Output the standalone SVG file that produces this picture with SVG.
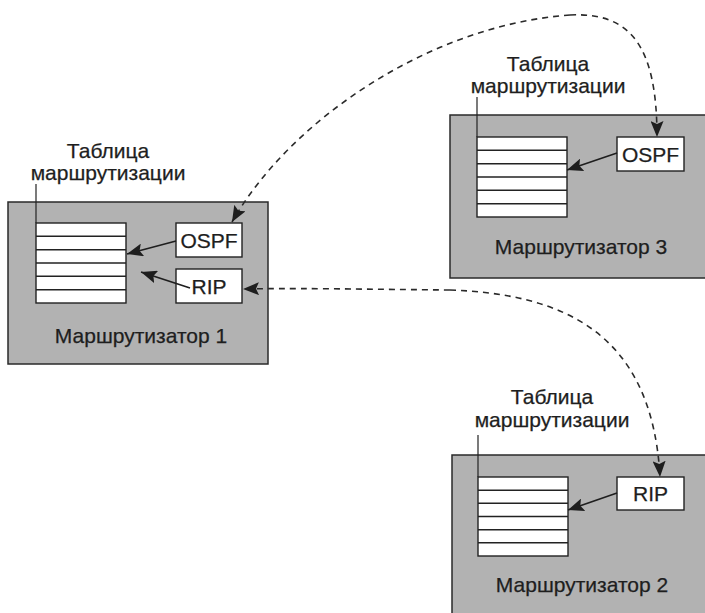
<svg xmlns="http://www.w3.org/2000/svg" width="705" height="613" viewBox="0 0 705 613">
<defs>
<style>
.rt{fill:#b2b2b2;stroke:#2a2a2a;stroke-width:1.5}
.tb{fill:#fff;stroke:#222;stroke-width:1.4}
.row{stroke:#222;stroke-width:1.4}
.box{fill:#fff;stroke:#222;stroke-width:1.4}
.lead{stroke:#222;stroke-width:1.2;fill:none}
text{font-family:"Liberation Sans",Arial,sans-serif;font-size:21px;fill:#1e1e1e;text-anchor:middle;stroke:#1e1e1e;stroke-width:0.25}
.sol{stroke:#1e1e1e;stroke-width:1.6;fill:none;marker-end:url(#ah)}
.dash{stroke:#2a2a2a;stroke-width:1.6;fill:none;stroke-dasharray:6 5;marker-end:url(#ah)}
</style>
<marker id="ah" markerUnits="userSpaceOnUse" markerWidth="17" markerHeight="13" refX="16" refY="6.5" orient="auto">
<path d="M0,0 L16,6.5 L0,13 L3,6.5 z" fill="#1e1e1e"/>
</marker>
</defs>

<g id="router1">
<rect class="rt" x="8" y="202" width="260" height="162"/>
<line class="lead" x1="36" y1="184" x2="36" y2="223"/>
<rect class="tb" x="36" y="223" width="90" height="80"/>
<line class="row" x1="36" y1="236.3" x2="126" y2="236.3"/>
<line class="row" x1="36" y1="249.7" x2="126" y2="249.7"/>
<line class="row" x1="36" y1="263" x2="126" y2="263"/>
<line class="row" x1="36" y1="276.3" x2="126" y2="276.3"/>
<line class="row" x1="36" y1="289.7" x2="126" y2="289.7"/>
<text x="108" y="158">Таблица</text>
<text x="108" y="180">маршрутизации</text>
<rect class="box" x="176" y="223" width="66" height="34"/>
<text x="209" y="248">OSPF</text>
<rect class="box" x="176" y="269" width="66" height="34"/>
<text x="209" y="294">RIP</text>
<text x="141" y="343">Маршрутизатор 1</text>
</g>

<g id="router3">
<rect class="rt" x="450" y="115" width="262" height="163"/>
<line class="lead" x1="477" y1="97" x2="477" y2="137"/>
<rect class="tb" x="477" y="137" width="90" height="80"/>
<line class="row" x1="477" y1="150.3" x2="567" y2="150.3"/>
<line class="row" x1="477" y1="163.7" x2="567" y2="163.7"/>
<line class="row" x1="477" y1="177" x2="567" y2="177"/>
<line class="row" x1="477" y1="190.3" x2="567" y2="190.3"/>
<line class="row" x1="477" y1="203.7" x2="567" y2="203.7"/>
<text x="548" y="71">Таблица</text>
<text x="548" y="93">маршрутизации</text>
<rect class="box" x="617" y="137" width="67" height="34"/>
<text x="650.5" y="162">OSPF</text>
<text x="581" y="254">Маршрутизатор 3</text>
</g>

<g id="router2">
<rect class="rt" x="452" y="455" width="262" height="170"/>
<line class="lead" x1="478" y1="435" x2="478" y2="477"/>
<rect class="tb" x="478" y="477" width="90" height="79"/>
<line class="row" x1="478" y1="490.2" x2="568" y2="490.2"/>
<line class="row" x1="478" y1="503.3" x2="568" y2="503.3"/>
<line class="row" x1="478" y1="516.5" x2="568" y2="516.5"/>
<line class="row" x1="478" y1="529.7" x2="568" y2="529.7"/>
<line class="row" x1="478" y1="542.8" x2="568" y2="542.8"/>
<text x="552" y="404">Таблица</text>
<text x="552" y="427">маршрутизации</text>
<rect class="box" x="617" y="477" width="67" height="33"/>
<text x="650.5" y="501">RIP</text>
<text x="582" y="592">Маршрутизатор 2</text>
</g>

<g id="connectors">
<line class="sol" x1="176" y1="241" x2="127" y2="254"/>
<line class="sol" x1="190" y1="288" x2="141" y2="272"/>
<line class="sol" x1="617" y1="153" x2="567" y2="170"/>
<line class="sol" x1="617" y1="493" x2="568" y2="510"/>
<path class="dash" d="M570,15 C430,25 290,120 232,222"/>
<path class="dash" d="M570,15 C630,12 657,45 657,137"/>
<path class="dash" d="M450,290 C345,289 290,288 243,289"/>
<path class="dash" d="M450,290 C560,294 652,330 660,477"/>
</g>
</svg>
